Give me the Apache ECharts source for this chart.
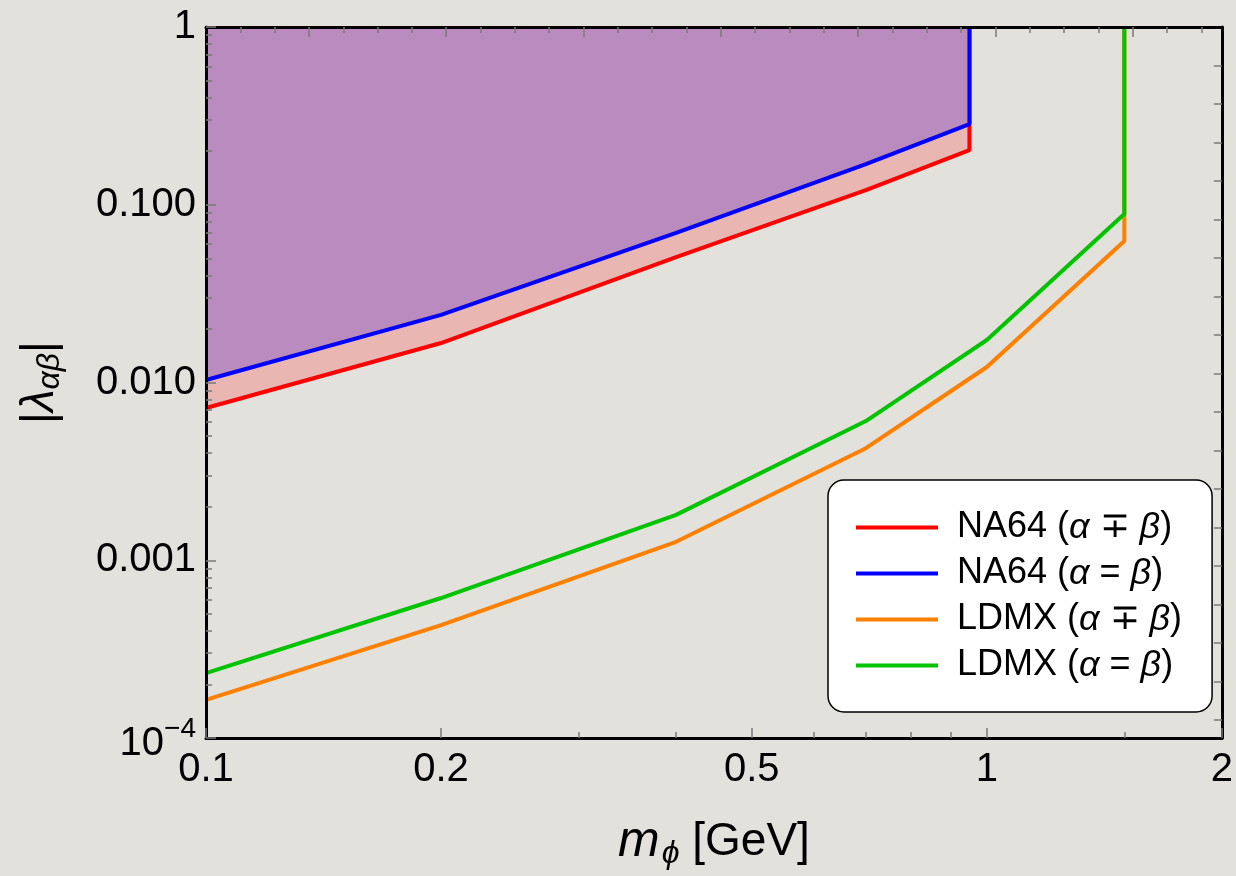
<!DOCTYPE html>
<html><head><meta charset="utf-8">
<script src="https://cdn.jsdelivr.net/npm/echarts@6/dist/echarts.min.js"></script>
<style>html,body{margin:0;padding:0;background:#e3e1dc}#c{width:1236px;height:876px}</style>
</head><body><div id="c"></div>
<script>
// ---- data ----
const massNA64 = [0.1, 0.2, 0.4, 0.7, 0.95, 0.95];
const na64Diff = [0.00719, 0.01668, 0.0508, 0.121, 0.203, 1];
const na64Same = [0.01033, 0.0240, 0.0694, 0.1695, 0.2846, 1];
const massLDMX = [0.1, 0.2, 0.4, 0.7, 1.0, 1.5, 1.5];
const ldmxDiff = [1.64e-4, 4.32e-4, 1.27e-3, 4.27e-3, 0.01222, 0.0625, 1];
const ldmxSame = [2.32e-4, 6.13e-4, 1.80e-3, 6.07e-3, 0.01734, 0.0887, 1];
const seriesNames = ['NA64 (α ∓ β)', 'NA64 (α = β)', 'LDMX (α ∓ β)', 'LDMX (α = β)'];
// ---- ticks ----
const xMajorTicks = [0.1, 0.2, 0.5, 1, 2];
const xMinorTicks = [0.3, 0.4, 0.6, 0.7, 0.8, 0.9, 1.5];
const yMajorTicks = [1e-4, 1e-3, 1e-2, 0.1, 1];
const yTickLabels = ['{b|10}{sup|−4}', '0.001', '0.010', '0.100', '1'];
const yDecades = [1e-4, 1e-3, 1e-2, 0.1];
const yMinorMult = [2, 3, 4, 5, 6, 7, 8, 9];

const FONT = 'Liberation Sans';
const yMinorTicks = [];
yDecades.forEach(d => yMinorMult.forEach(m => yMinorTicks.push(+(d * m).toPrecision(3))));
const topTicks = []; for (let k = 1; k <= 29; k++) topTicks.push(k);
const topMajor = topTicks.filter(k => k % 4 === 3);
const rightTicks = []; for (let k = 1; k <= 18; k++) rightTicks.push(k);

function pairs(xs, ys) { return xs.map((x, i) => [x, ys[i]]); }

const frameLine = { show: true, onZero: false, lineStyle: { color: '#000', width: 3 } };
const noLine = { show: false, onZero: false };
const tickGray = '#7a7a7a';

const chart = echarts.init(document.getElementById('c'));
chart.setOption({
  backgroundColor: '#e3e1dc',
  animation: false,
  textStyle: { fontFamily: FONT },
  grid: { left: 206, right: 14, top: 27, bottom: 138 },
  xAxis: [
    {
      type: 'log', logBase: 10, min: 0.1, max: 2, position: 'bottom', z: 10,
      axisLine: frameLine, splitLine: { show: false },
      axisTick: { inside: true, length: 10, customValues: xMajorTicks, lineStyle: { color: tickGray, width: 1.5 } },
      axisLabel: { customValues: xMajorTicks, fontSize: 40, color: '#000', margin: 12, fontFamily: FONT,
        formatter: v => String(+v.toPrecision(3)) },
      name: '{i|m}{s|ϕ}{t| [GeV]}', nameLocation: 'middle', nameGap: 76,
      nameTextStyle: { rich: {
        i: { fontSize: 50, fontStyle: 'italic', fontFamily: FONT, color: '#000' },
        s: { fontSize: 32, fontStyle: 'italic', fontFamily: FONT, color: '#000', padding: [24, 0, 0, 2] },
        t: { fontSize: 46, fontFamily: FONT, color: '#000' } } }
    },
    {
      type: 'log', logBase: 10, min: 0.1, max: 2, position: 'bottom', z: 10,
      axisLine: noLine, splitLine: { show: false }, axisLabel: { show: false },
      axisTick: { inside: true, length: 6, customValues: xMinorTicks, lineStyle: { color: tickGray, width: 1.5 } }
    },
    {
      type: 'value', min: 0, max: 29.6, position: 'top', z: 10,
      axisLine: frameLine, splitLine: { show: false }, axisLabel: { show: false },
      axisTick: { inside: true, length: 6, customValues: topTicks, lineStyle: { color: tickGray, width: 1.5 } }
    },
    {
      type: 'value', min: 0, max: 29.6, position: 'top', z: 10,
      axisLine: noLine, splitLine: { show: false }, axisLabel: { show: false },
      axisTick: { inside: true, length: 10, customValues: topMajor, lineStyle: { color: tickGray, width: 1.5 } }
    }
  ],
  yAxis: [
    {
      type: 'log', logBase: 10, min: 1e-4, max: 1, position: 'left', z: 10,
      axisLine: frameLine, splitLine: { show: false },
      axisTick: { inside: true, length: 10, customValues: yMajorTicks, lineStyle: { color: tickGray, width: 1.5 } },
      axisLabel: { customValues: yMajorTicks, fontSize: 40, color: '#000', margin: 10, fontFamily: FONT,
        formatter: v => yTickLabels[Math.round(Math.log10(v)) + 4],
        rich: { b: { fontSize: 40, fontFamily: FONT, color: '#000', padding: [12, 0, 0, 0] },
                sup: { fontSize: 28, fontFamily: FONT, color: '#000', padding: [0, 0, 18, 0] } } },
      name: '{b||}{l|λ}{s|αβ}{b||}', nameLocation: 'middle', nameGap: 140,
      nameTextStyle: { rich: {
        b: { fontSize: 46, fontFamily: FONT, color: '#000' },
        l: { fontSize: 46, fontStyle: 'italic', fontFamily: FONT, color: '#000' },
        s: { fontSize: 32, fontStyle: 'italic', fontFamily: FONT, color: '#000', padding: [20, 0, 0, 0] } } }
    },
    {
      type: 'log', logBase: 10, min: 1e-4, max: 1, position: 'left', z: 10,
      axisLine: noLine, splitLine: { show: false }, axisLabel: { show: false },
      axisTick: { inside: true, length: 6, customValues: yMinorTicks, lineStyle: { color: tickGray, width: 1.5 } }
    },
    {
      type: 'value', min: 0, max: 18.47, inverse: true, position: 'right', z: 10,
      axisLine: frameLine, splitLine: { show: false }, axisLabel: { show: false },
      axisTick: { inside: true, length: 8, customValues: rightTicks, lineStyle: { color: tickGray, width: 1.5 } }
    }
  ],
  legend: {
    orient: 'vertical', left: 828, top: 480, z: 20,
    backgroundColor: '#ffffff', borderColor: '#000', borderWidth: 1.5, borderRadius: 16,
    padding: [27, 30, 26, 28], itemWidth: 82, itemHeight: 4, icon: 'rect', itemGap: 5,
    data: seriesNames,
    formatter: n => n.replace(/([αβ])/g, '{i|$1}'),
    textStyle: { fontSize: 36, color: '#000', fontFamily: FONT, lineHeight: 41, padding: [0, 0, 0, 14],
      rich: { i: { fontSize: 36, fontStyle: 'italic', fontFamily: FONT, color: '#000', lineHeight: 41 } } }
  },
  series: [
    { name: seriesNames[0], type: 'line', xAxisIndex: 0, yAxisIndex: 0, data: pairs(massNA64, na64Diff),
      color: '#ff0000', symbol: 'none', lineStyle: { width: 4, color: '#ff0000' },
      areaStyle: { origin: 'end', color: '#e9b6b1', opacity: 1 }, z: 2 },
    { name: seriesNames[1], type: 'line', xAxisIndex: 0, yAxisIndex: 0, data: pairs(massNA64, na64Same),
      color: '#0000ff', symbol: 'none', lineStyle: { width: 4, color: '#0000ff' },
      areaStyle: { origin: 'end', color: '#b98bbf', opacity: 1 }, z: 3 },
    { name: seriesNames[2], type: 'line', xAxisIndex: 0, yAxisIndex: 0, data: pairs(massLDMX, ldmxDiff),
      color: '#ff8000', symbol: 'none', lineStyle: { width: 4, color: '#ff8000' }, z: 4 },
    { name: seriesNames[3], type: 'line', xAxisIndex: 0, yAxisIndex: 0, data: pairs(massLDMX, ldmxSame),
      color: '#00c400', symbol: 'none', lineStyle: { width: 4, color: '#00c400' }, z: 5 }
  ]
});
</script></body></html>
